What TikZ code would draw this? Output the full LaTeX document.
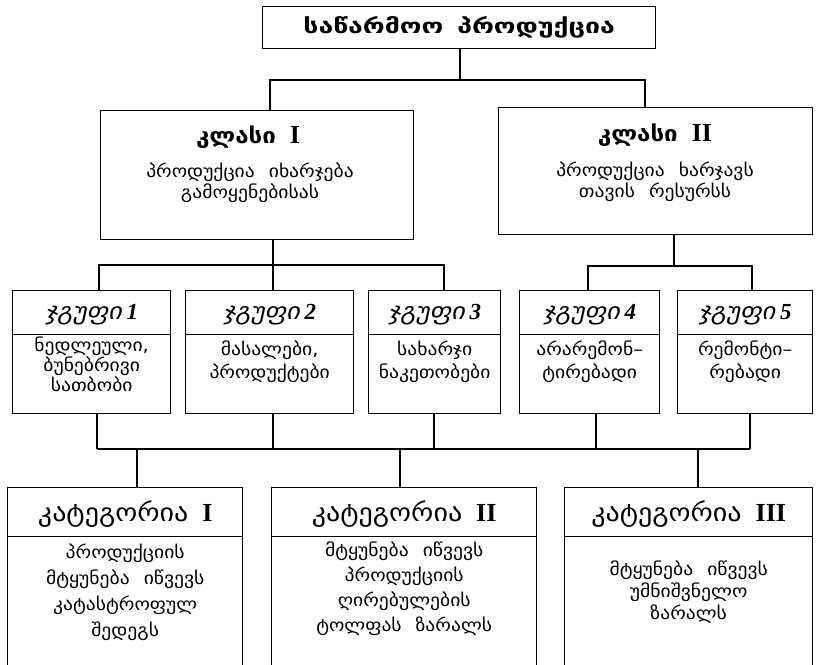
\documentclass[tikz,border=0pt]{standalone}
\usepackage{fontspec}
\newfontfamily\geo[FakeStretch=1.12]{DejaVu Sans}
\newfontfamily\geottl[FakeStretch=1.3]{DejaVu Sans}
\newfontfamily\geoit[FakeSlant=0.22,FakeStretch=1.12]{DejaVu Sans}
\newfontfamily\romn{Liberation Serif}
\usetikzlibrary{calc}

% rectangle node from its top-left (x1,y1) to bottom-right (x2,y2)
\newcommand\rbox[6][]{\node[box,#1,minimum width={(#4)-(#2)},minimum height={(#5)-(#3)}] (#6) at (#2,#3) {};}
% wide gap between words
\newcommand\wsp{\hspace{14pt}}
% bold roman numeral
\newcommand\rnum[1]{{\romn\bfseries\fontsize{26}{28}\selectfont #1}}

\begin{document}
\begin{tikzpicture}[x=1pt,y=-1pt,
  box/.style={draw,line width=1.4pt,inner sep=0pt,anchor=north west},
  wire/.style={line width=1.1pt},
  body/.style={font=\geo\fontsize{17.5}{21}\selectfont,align=center,inner sep=0pt},
  chead/.style={font=\geo\bfseries\fontsize{21.5}{24}\selectfont,inner sep=0pt},
  head/.style={font=\geo\fontsize{25}{28}\selectfont,inner sep=0pt},
  grp/.style={font=\geoit\fontsize{23.5}{26}\selectfont,inner sep=0pt}]
\useasboundingbox (0,0) rectangle (819,664);

% top
\rbox{262}{6}{655}{48}{title}
\node[font=\geottl\bfseries\fontsize{20.5}{24}\selectfont,inner sep=0pt] (titlet) at (title.center) {საწარმოო\wsp პროდუქცია};

% classes
\rbox{100}{110}{413}{239}{cls1}
\rbox{498}{107}{812}{234}{cls2}
\node[chead] (cls1h) at (248,137) {კლასი\wsp\rnum{I}};
\node[chead] (cls2h) at (655,135) {კლასი\wsp\rnum{II}};
\node[body,anchor=north] (cls1b) at (250,163) {პროდუქცია\wsp იხარჯება\\გამოყენებისას};
\node[body,anchor=north] (cls2b) at (655,162) {პროდუქცია\wsp ხარჯავს\\თავის\wsp რესურსს};

% groups: header and body boxes
\rbox{12}{290}{170}{334}{g1h}  \rbox{12}{334}{170}{413}{g1b}
\rbox{185}{290}{353}{334}{g2h} \rbox{185}{334}{353}{413}{g2b}
\rbox{368}{290}{500}{334}{g3h} \rbox{368}{334}{500}{413}{g3b}
\rbox{519}{290}{659}{334}{g4h} \rbox{519}{334}{659}{413}{g4b}
\rbox{677}{290}{812}{334}{g5h} \rbox{677}{334}{812}{413}{g5b}
\foreach \g/\n in {g1/1,g2/2,g3/3,g4/4,g5/5}{
  \node[grp] (\g t) at ($(\g h.center)+(0,2)$) {ჯგუფი\hspace{5pt}{\romn\bfseries\itshape\fontsize{23}{26}\selectfont\n}};
}
\node[body,anchor=north,font=\geo\fontsize{17.5}{20}\selectfont] (g1l) at ($(g1b.north)+(0,3)$) {ნედლეული,\\ბუნებრივი\\სათბობი};
\node[body,anchor=north,font=\geo\fontsize{17.5}{23}\selectfont] (g2l) at ($(g2b.north)+(0,7)$) {მასალები,\\პროდუქტები};
\node[body,anchor=north,font=\geo\fontsize{17.5}{23}\selectfont] (g3l) at ($(g3b.north)+(0,7)$) {სახარჯი\\ნაკეთობები};
\node[body,anchor=north,font=\geo\fontsize{17.5}{23}\selectfont] (g4l) at ($(g4b.north)+(0,7)$) {არარემონ–\\ტირებადი};
\node[body,anchor=north,font=\geo\fontsize{17.5}{23}\selectfont] (g5l) at ($(g5b.north)+(0,7)$) {რემონტი–\\რებადი};

% categories
\rbox{7}{487}{242}{536}{c1h}   \rbox{7}{536}{242}{672}{c1b}
\rbox{271}{487}{536}{536}{c2h} \rbox{271}{536}{536}{672}{c2b}
\rbox{564}{487}{812}{536}{c3h} \rbox{564}{536}{812}{672}{c3b}
\node[head] (c1t) at ($(c1h.center)+(0,2)$) {კატეგორია\wsp\rnum{I}};
\node[head] (c2t) at ($(c2h.center)+(0,2)$) {კატეგორია\wsp\rnum{II}};
\node[head] (c3t) at ($(c3h.center)+(0,2)$) {კატეგორია\wsp\rnum{III}};
\node[body,anchor=north,font=\geo\fontsize{17.5}{26}\selectfont] (c1l) at ($(c1b.north)+(0,8)$) {პროდუქციის\\მტყუნება\wsp იწვევს\\კატასტროფულ\\შედეგს};
\node[body,anchor=north,font=\geo\fontsize{17.5}{25}\selectfont] (c2l) at ($(c2b.north)+(0,6)$) {მტყუნება\wsp იწვევს\\პროდუქციის\\ღირებულების\\ტოლფას\wsp ზარალს};
\node[body,anchor=north,font=\geo\fontsize{17.5}{22}\selectfont] (c3l) at ($(c3b.north)+(0,25)$) {მტყუნება\wsp იწვევს\\უმნიშვნელო\\ზარალს};

% connectors: title to classes
\coordinate (j0) at (460,80);
\draw[wire] (title.south -| j0) -- (j0);
\draw[wire] (cls1.north -| 270,0) |- (j0) -| (cls2.north -| 645,0);

% class I to groups 1-3
\coordinate (j1) at (273,265);
\draw[wire] (cls1.south -| j1) -- (j1);
\draw[wire] (g1h.north -| 99,0) |- (j1) -| (g3h.north -| 444,0);
\draw[wire] (j1) -- (g2h.north -| j1);

% class II to groups 4-5
\coordinate (j2) at (674,266);
\draw[wire] (cls2.south -| j2) -- (j2);
\draw[wire] (g4h.north -| 588,0) |- (j2) -| (g5h.north -| 752,0);

% groups to common bus
\coordinate (bl) at (97,449);
\coordinate (br) at (750,449);
\draw[wire] (bl) -- (br);
\draw[wire] (g1b.south -| bl) -- (bl);
\draw[wire] (g2b.south -| 273,0) -- (273,449);
\draw[wire] (g3b.south -| 434,0) -- (434,449);
\draw[wire] (g4b.south -| 596,0) -- (596,449);
\draw[wire] (g5b.south -| br) -- (br);

% bus to categories
\draw[wire] (137,449) -- (c1h.north -| 137,0);
\draw[wire] (400,449) -- (c2h.north -| 400,0);
\draw[wire] (698,449) -- (c3h.north -| 698,0);
\end{tikzpicture}
\end{document}
